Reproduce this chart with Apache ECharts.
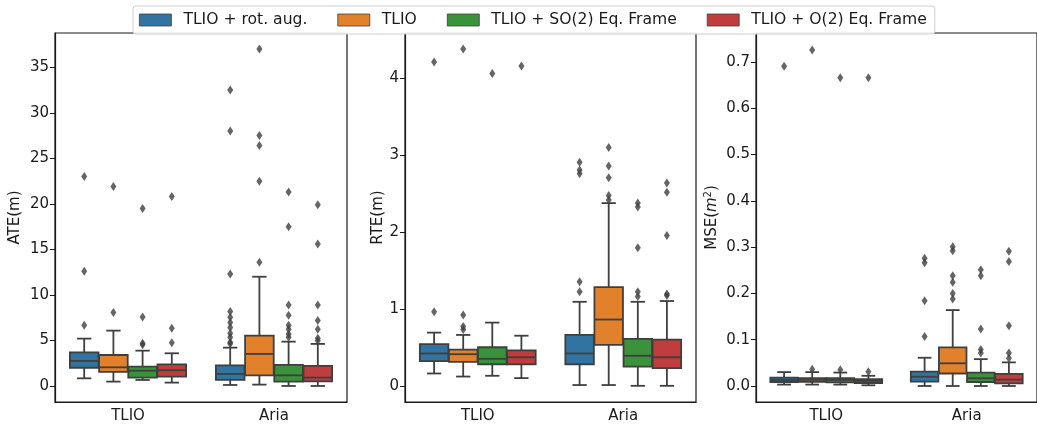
<!DOCTYPE html>
<html>
<head>
<meta charset="utf-8">
<script src="https://cdn.jsdelivr.net/npm/echarts@6/dist/echarts.min.js"></script>
<style>
  html, body { margin: 0; padding: 0; background: #fff; }
  #chart { width: 1037px; height: 425px; }
</style>
</head>
<body>
<div id="chart"></div>
<script>
const categories = ['TLIO', 'Aria']
const methods = ['TLIO + rot. aug.', 'TLIO', 'TLIO + SO(2) Eq. Frame', 'TLIO + O(2) Eq. Frame']
const colors = ['#3274a1', '#e1812c', '#3a923a', '#c03d3e']

// box rows per method: [lower whisker, q1, median, q3, upper whisker]
const ateTlioBox = [[0.84, 2.0, 2.75, 3.7, 5.2], [0.48, 1.54, 2.05, 3.4, 6.08], [0.66, 0.92, 1.68, 2.12, 3.88], [0.37, 1.03, 1.72, 2.38, 3.59]]
const ateAriaBox = [[0.11, 0.66, 1.32, 2.27, 4.21], [0.15, 1.17, 3.52, 5.53, 12.0], [0.0, 0.48, 1.17, 2.31, 4.87], [0.0, 0.51, 0.92, 2.2, 4.62]]
const ateTlioOut = [[23.0, 12.6, 6.67], [21.9, 8.06], [19.5, 7.58, 4.69, 4.54], [20.8, 6.34, 4.76]]
const ateAriaOut = [[32.5, 28.0, 12.3, 8.17, 7.55, 6.96, 6.41, 5.79, 5.35, 4.8, 4.65], [37.0, 27.5, 26.4, 22.5, 13.6], [21.3, 17.5, 8.9, 7.77, 6.67, 6.23, 5.71, 5.35], [19.9, 15.6, 8.9, 7.18, 6.23, 5.24, 4.98]]

const rteTlioBox = [[0.17, 0.33, 0.43, 0.55, 0.70], [0.13, 0.32, 0.42, 0.48, 0.67], [0.14, 0.29, 0.36, 0.51, 0.83], [0.11, 0.29, 0.38, 0.47, 0.66]]
const rteAriaBox = [[0.02, 0.29, 0.43, 0.67, 1.10], [0.02, 0.54, 0.87, 1.29, 2.38], [0.01, 0.26, 0.40, 0.62, 1.10], [0.01, 0.24, 0.38, 0.61, 1.11]]
const rteTlioOut = [[4.21, 0.97], [4.38, 0.93, 0.78, 0.74], [4.06], [4.16]]
const rteAriaOut = [[2.91, 2.81, 2.76, 1.36, 1.23], [3.10, 2.86, 2.71, 2.48, 2.42], [2.38, 2.33, 1.80, 1.23, 1.17], [2.64, 2.52, 1.96, 1.20, 1.18]]

const mseTlioBox = [[0.003, 0.0086, 0.013, 0.018, 0.030], [0.003, 0.009, 0.013, 0.017, 0.030], [0.003, 0.008, 0.013, 0.017, 0.029], [0.0015, 0.0065, 0.011, 0.015, 0.022]]
const mseAriaBox = [[0.0, 0.0094, 0.020, 0.031, 0.061], [0.0, 0.027, 0.049, 0.0835, 0.164], [0.0, 0.0086, 0.0166, 0.029, 0.058], [0.0, 0.0058, 0.0137, 0.026, 0.051]]
const mseTlioOut = [[0.691], [0.726, 0.036], [0.666, 0.035], [0.666, 0.031]]
const mseAriaOut = [[0.276, 0.266, 0.184, 0.107], [0.301, 0.292, 0.238, 0.224, 0.200, 0.188], [0.251, 0.238, 0.123, 0.079, 0.071], [0.291, 0.269, 0.130, 0.071, 0.060]]

const ateTicks = [0, 5, 10, 15, 20, 25, 30, 35]
const rteTicks = [0, 1, 2, 3, 4]
const mseTicks = [0, 0.1, 0.2, 0.3, 0.4, 0.5, 0.6, 0.7]

const hueOffsets = [-0.3, -0.1, 0.1, 0.3]
const edge = '#3f3f3f'
const ink = '#1a1a1a'
const font = 'DejaVu Sans'

const panels = [
  {left: 55, width: 292, min: -1.76, max: 38.77, ticks: ateTicks, fmt: v => String(v), name: 'ATE(m)', gap: 32, box: [ateTlioBox, ateAriaBox], out: [ateTlioOut, ateAriaOut]},
  {left: 405, width: 291, min: -0.2, max: 4.587, ticks: rteTicks, fmt: v => String(v), name: 'RTE(m)', gap: 19, box: [rteTlioBox, rteAriaBox], out: [rteTlioOut, rteAriaOut]},
  {left: 756, width: 292, min: -0.0346, max: 0.7626, ticks: mseTicks, fmt: v => v.toFixed(1), name: 'MSE({i|m}{s|2})', gap: 35, box: [mseTlioBox, mseAriaBox], out: [mseTlioOut, mseAriaOut]}
]

function renderBox(params, api) {
  const x = api.value(0)
  const pLow = api.coord([x, api.value(1)])
  const pQ1 = api.coord([x, api.value(2)])
  const pMed = api.coord([x, api.value(3)])
  const pQ3 = api.coord([x, api.value(4)])
  const pHigh = api.coord([x, api.value(5)])
  const w = api.size([0.196, 0])[0]
  const cx = pMed[0]
  const line = {stroke: edge, lineWidth: 1.8}
  return {
    type: 'group',
    children: [
      {type: 'line', shape: {x1: cx, y1: pLow[1], x2: cx, y2: pQ1[1]}, style: line},
      {type: 'line', shape: {x1: cx, y1: pQ3[1], x2: cx, y2: pHigh[1]}, style: line},
      {type: 'line', shape: {x1: cx - w / 4, y1: pLow[1], x2: cx + w / 4, y2: pLow[1]}, style: line},
      {type: 'line', shape: {x1: cx - w / 4, y1: pHigh[1], x2: cx + w / 4, y2: pHigh[1]}, style: line},
      {type: 'rect', shape: {x: cx - w / 2, y: pQ3[1], width: w, height: pQ1[1] - pQ3[1]},
        style: {fill: api.visual('color'), stroke: edge, lineWidth: 1.8}},
      {type: 'line', shape: {x1: cx - w / 2, y1: pMed[1], x2: cx + w / 2, y2: pMed[1]}, style: line}
    ]
  }
}

const chart = echarts.init(document.getElementById('chart'), null, {renderer: 'canvas'})

const grid = [], xAxis = [], yAxis = [], series = []
panels.forEach((p, gi) => {
  grid.push({left: p.left, width: p.width, top: 33, height: 369, show: true, borderColor: ink, borderWidth: 1.2, backgroundColor: 'transparent'})
  xAxis.push({
    type: 'category', gridIndex: gi, data: categories, position: 'bottom',
    axisLine: {onZero: false, lineStyle: {color: ink, width: 1.2}},
    axisTick: {alignWithLabel: true, length: 5, lineStyle: {color: ink}},
    axisLabel: {color: ink, fontSize: 15, fontFamily: font, margin: 7}
  })
  xAxis.push({type: 'value', gridIndex: gi, min: -0.5, max: 1.5, show: false})
  yAxis.push({
    type: 'value', gridIndex: gi, min: p.min, max: p.max,
    name: p.name, nameLocation: 'middle', nameGap: p.gap,
    nameTextStyle: {color: ink, fontSize: 15, fontFamily: font,
      rich: {i: {fontStyle: 'italic', fontSize: 15, fontFamily: font, color: ink},
        s: {fontSize: 10, fontFamily: font, color: ink, verticalAlign: 'bottom', padding: [0, 0, 8, 0]}}},
    splitLine: {show: false},
    axisLine: {show: true, onZero: false, lineStyle: {color: ink, width: 1.2}},
    axisTick: {show: true, length: 5, customValues: p.ticks, lineStyle: {color: ink}},
    axisLabel: {customValues: p.ticks, formatter: p.fmt, color: ink, fontSize: 15, fontFamily: font, margin: 6}
  })
  methods.forEach((m, mi) => {
    const boxData = categories.map((c, ci) => [ci + hueOffsets[mi]].concat(p.box[ci][mi]))
    series.push({
      name: m, type: 'custom', xAxisIndex: gi * 2 + 1, yAxisIndex: gi,
      itemStyle: {color: colors[mi]}, renderItem: renderBox, data: boxData,
      encode: {x: 0, y: [1, 2, 3, 4, 5]}, z: 2
    })
    const outData = []
    categories.forEach((c, ci) => {
      p.out[ci][mi].forEach(v => outData.push([ci + hueOffsets[mi], v]))
    })
    series.push({
      type: 'scatter', xAxisIndex: gi * 2 + 1, yAxisIndex: gi,
      symbol: 'diamond', symbolSize: [6, 9], data: outData,
      itemStyle: {color: edge}, z: 3, silent: true
    })
  })
})

const option = {
  animation: false,
  backgroundColor: '#fff',
  legend: {
    data: methods.map((m, i) => ({name: m, icon: 'rect', itemStyle: {color: colors[i], borderColor: edge, borderWidth: 0.8}})),
    left: 133, top: 6,
    itemWidth: 32, itemHeight: 12, itemGap: 30,
    padding: [6, 8, 6, 6],
    backgroundColor: 'rgba(255,255,255,0.9)', borderColor: '#d0d0d0', borderWidth: 1, borderRadius: 3,
    textStyle: {color: ink, fontSize: 15.6, fontFamily: font, padding: [0, 0, 0, 7]},
    z: 10
  },
  grid: grid,
  xAxis: xAxis,
  yAxis: yAxis,
  series: series
}

chart.setOption(option)
</script>
</body>
</html>
